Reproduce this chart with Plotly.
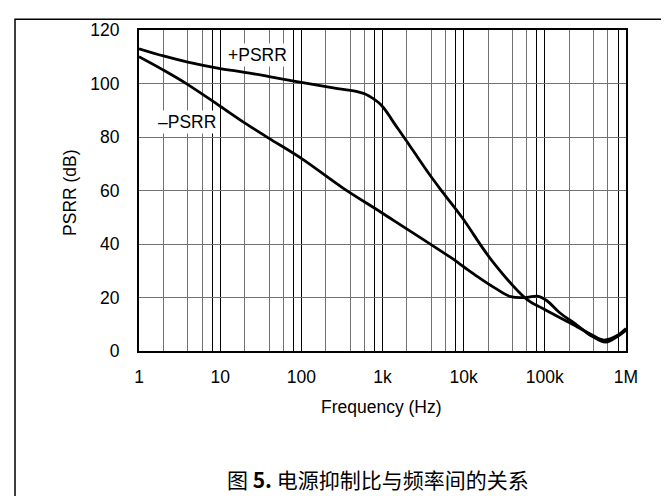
import math
import plotly.graph_objects as go

# ---- data ----
freq_pos = [1, 2, 4, 10, 20, 40, 100, 280, 500, 600, 700, 800, 900, 1000, 1130, 1300, 1600,
            1940, 3590, 5500, 9660, 22000, 60000, 97000, 251000, 372000, 533000, 800000, 1000000]
psrr_pos = [113, 110.3, 108, 105.6, 104.2, 102.6, 100.4, 98.1, 96.9, 96.2, 95.1, 94.0, 92.8,
            91.4, 89.3, 86.5, 82.5, 78.9, 67, 59.4, 49.7, 34, 19.3, 15.7, 9.0, 6.2, 4.1, 6.0, 8.4]

freq_neg = [1, 2, 4, 10, 20, 40, 100, 323, 1000, 7300, 10000, 14800, 25000, 38000, 60000,
            81000, 107000, 150000, 251000, 372000, 563000, 800000, 1000000]
psrr_neg = [110, 105, 99.6, 91.5, 85.3, 79.5, 72, 61, 51.5, 34.5, 31.5, 27.8, 23.3, 20.3, 20.0,
            20.5, 18.7, 14.5, 9.6, 5.7, 3.3, 5.6, 7.8]

decades = [1, 10, 100, 1000, 10000, 100000, 1000000]
decade_labels = ["1", "10", "100", "1k", "10k", "100k", "1M"]
y_ticks = [0, 20, 40, 60, 80, 100, 120]

series_labels = ["+PSRR", "–PSRR"]
label_freq = [29.2, 3.9]
label_db = [110.5, 85.7]

caption = "图 <b>5.</b> 电源抑制比与频率间的关系"

# ---- grid layout helpers ----
major_vals, major_text = [], []
for d, lab in zip(decades, decade_labels):
    if d > 1:
        major_vals.append(d * 0.8)
        major_text.append("")
    major_vals.append(d)
    major_text.append(lab)
minor_vals = [d * m for d in decades[:-1] for m in (2, 4, 6)]

FONT = "Liberation Sans, Arial, Helvetica, sans-serif"
FS = 17.5

fig = go.Figure()
fig.add_trace(go.Scatter(x=freq_pos, y=psrr_pos, mode="lines",
                         line=dict(color="black", width=2.8, shape="spline", smoothing=1),
                         name="+PSRR", hoverinfo="skip"))
fig.add_trace(go.Scatter(x=freq_neg, y=psrr_neg, mode="lines",
                         line=dict(color="black", width=2.8, shape="spline", smoothing=1),
                         name="-PSRR", hoverinfo="skip"))

fig.update_layout(
    width=669, height=496,
    margin=dict(l=131, r=51, t=14, b=153),
    paper_bgcolor="white", plot_bgcolor="white",
    showlegend=False,
    font=dict(family=FONT, size=FS, color="black"),
)

fig.update_xaxes(
    type="log", range=[0, 6],
    tickmode="array", tickvals=major_vals, ticktext=major_text,
    showgrid=True, gridcolor="black", gridwidth=1,
    minor=dict(tickmode="array", tickvals=minor_vals, showgrid=True,
               gridcolor="#727272", gridwidth=1.2, ticks=""),
    ticks="", ticklabelstandoff=9,
    showline=True, linecolor="black", linewidth=2, mirror=True,
    zeroline=False,
    tickfont=dict(family=FONT, size=FS, color="black"),
)
fig.update_yaxes(
    range=[0, 120], tickmode="array", tickvals=y_ticks,
    showgrid=True, gridcolor="#727272", gridwidth=1.2,
    ticks="", ticklabelstandoff=14,
    showline=True, linecolor="black", linewidth=2, mirror=True,
    zeroline=False,
    tickfont=dict(family=FONT, size=FS, color="black"),
)

for txt, fx, fy in zip(series_labels, label_freq, label_db):
    fig.add_annotation(x=math.log10(fx), y=fy, xref="x", yref="y", text=txt,
                       showarrow=False, bgcolor="white", borderpad=1,
                       font=dict(family=FONT, size=FS, color="black"))

fig.add_annotation(x=-0.1417, y=0.4954, xref="paper", yref="paper", text="PSRR (dB)",
                   textangle=-90, showarrow=False, xanchor="center", yanchor="middle",
                   font=dict(family=FONT, size=FS, color="black"))
fig.add_annotation(x=0.497, y=-0.1733, xref="paper", yref="paper", text="Frequency (Hz)",
                   showarrow=False, xanchor="center", yanchor="middle",
                   font=dict(family=FONT, size=FS, color="black"))
fig.add_annotation(x=0.4908, y=-0.398, xref="paper", yref="paper", text=caption,
                   showarrow=False, xanchor="center", yanchor="middle",
                   font=dict(family="Noto Sans CJK SC, sans-serif", size=21, color="black"))

# outer frame (top and left edges of the figure box)
fig.add_shape(type="path", xref="paper", yref="paper",
              path="M 1.1 1.0334 L -0.2546 1.0334 L -0.2546 -0.56",
              line=dict(color="black", width=1.5))

fig.write_html("out.html")
